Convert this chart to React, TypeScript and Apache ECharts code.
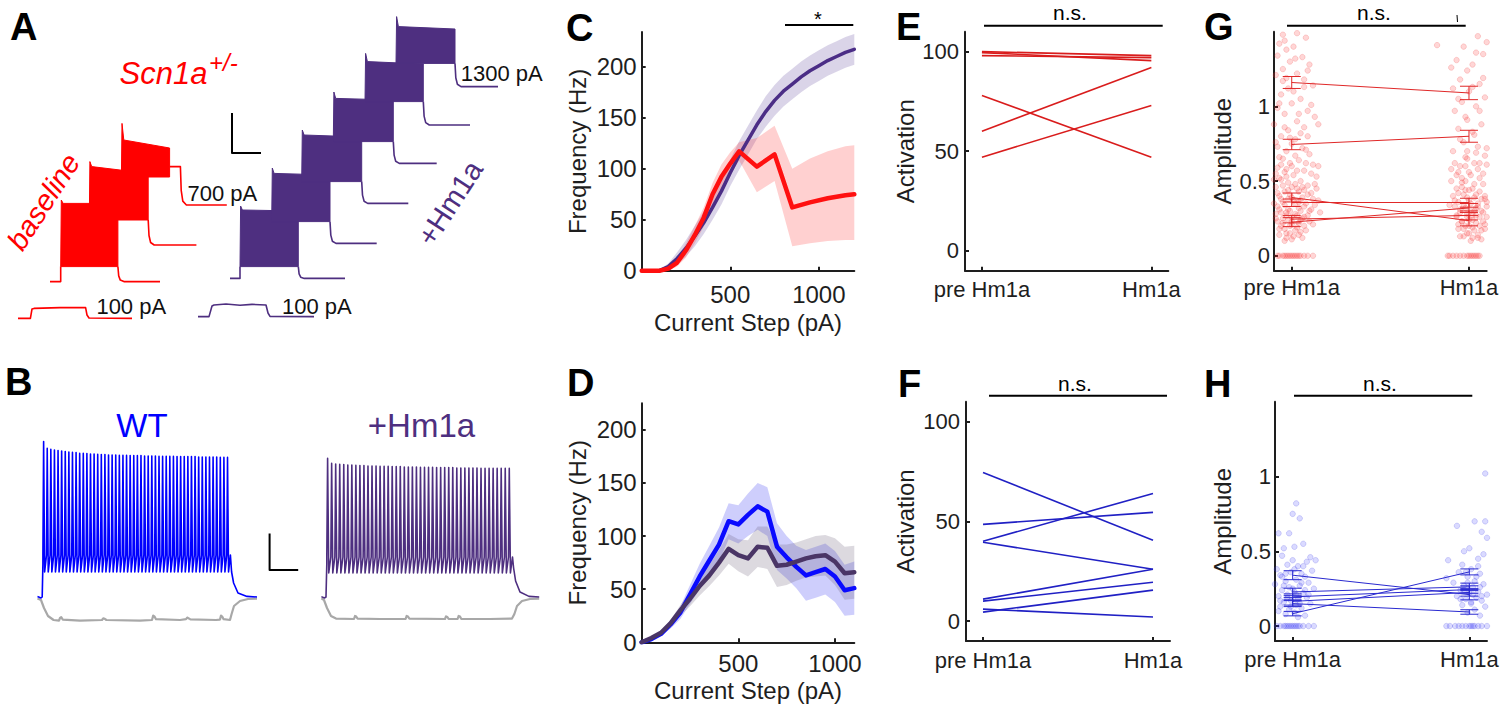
import React, { useEffect, useRef } from "react";
import * as echarts from "echarts";

const FONT = '"Liberation Sans", Arial, Helvetica, sans-serif';
const INK = "#1e1e1e";
const RED = "#ff0000";
const PURPLE = "#4e2f80";
const BLUE = "#0000ff";

// ---------------- Panel A : current-step traces (ms, mV incl. display offsets)
const redSmall = [[90, -159.2], [152, -159.2], [160, -154.5], [170, -154.2], [300, -153.8], [428, -153.8], [435, -157.5], [445, -159], [660, -159.2]];
const purpleSmall = [[990, -158.3], [1045, -158.3], [1060, -153], [1070, -152.5], [1130, -152], [1200, -152.6], [1260, -152.2], [1330, -152.5], [1340, -156.5], [1350, -158.2], [1570, -158.3]];

const redPreStart = 250;
const redStepOn = [303.5, 446.5, 607];
const redStepOff = [589.5, 741, 848];
const redStepPeak = [-100, -80.8, -61.7];
const redStepTopStart = [-101.7, -83.3, -70];
const redStepTopEnd = [-101.7, -86.7, -74];
const redStepBottom = [-133.3, -110, -88.5];
const redStepHold = [-133.3, -110, -83.3];
const redStepHoldEnd = [589.5, 741, 902];
const redStepBase = [-140.8, -122.5, -102.5];
const redStepTailEnd = [800, 982, 1134];

const purplePreStart = 1150;
const purpleStepOn = [1200, 1358.5, 1508.5, 1666.5, 1825, 1980];
const purpleStepOff = [1491.5, 1650, 1808.5, 1966.5, 2116.5, 2275];
const purpleStepPeak = [-103, -84, -65, -46, -26.7, -8.3];
const purpleStepTopStart = [-105, -86.7, -67.5, -49.2, -30.8, -13.3];
const purpleStepTopEnd = [-105.5, -87.5, -68.5, -50, -32, -14.5];
const purpleStepBottom = [-133.3, -110.8, -90.8, -70.8, -50.8, -31.7];
const purpleStepBase = [-139.2, -121.7, -101.7, -81.7, -62.5, -43.3];
const purpleStepTailEnd = [1725, 1883.5, 2041.5, 2183.5, 2350, 2490];

const decayT = [0, 4, 12, 30];
const decayF = [0, 0.62, 0.9, 1];

const scaleBarA = [[1160, -56.5], [1160, -76.5], [1305, -76.5]];

// ---------------- Panel B : firing traces
const wtPre = [[187.5, -128.3], [205, -129], [211, -128.5], [214.5, -112]];
const wtOnset = 214.5;
const wtOffset = 1152;
const wtTrough = -116;
const wtRamp = -107.5;
const wtPeaks = [-50.8, -54.2, -54.7, -55.0, -55.3, -55.5, -55.8, -56.0, -56.2, -56.3, -56.7, -56.7, -56.8, -57.0, -57.0, -57.2, -57.3, -57.3, -57.5, -57.5, -57.5, -57.7, -57.7, -57.7, -57.8, -57.8, -57.8, -57.8, -58.0, -58.0, -58.0, -58.0, -58.2, -58.2, -58.2, -58.2, -58.2, -58.3, -58.3, -58.3, -58.3, -58.3, -58.3, -58.5, -58.5, -58.5, -58.5, -58.5, -58.5, -58.7, -58.7, -58.7];
const wtPost = [[1158, -116], [1168, -121.5], [1190, -126.5], [1235, -128.2], [1285, -128.5]];

const hmPre = [[1607, -128.3], [1622, -129], [1630, -128.5], [1634, -112]];
const hmOnset = 1634;
const hmOffset = 2562.5;
const hmTrough = -116.5;
const hmRamp = -108.5;
const hmPeaks = [-59.2, -61.7, -62.0, -62.2, -62.3, -62.5, -62.5, -62.7, -62.8, -62.8, -63.0, -63.0, -63.0, -63.2, -63.2, -63.2, -63.3, -63.3, -63.3, -63.5, -63.5, -63.5, -63.5, -63.7, -63.7, -63.7, -63.7, -63.8, -63.8, -63.8, -63.8, -63.8, -64.0, -64.0, -64.0, -64.0, -64.0, -64.0, -64.2, -64.2, -64.2, -64.2, -64.2, -64.2, -64.2, -64.2];
const hmPost = [[2568, -114], [2578, -120.5], [2600, -126], [2645, -128.2], [2696, -128.5]];

const greyWT = [[187.5, -129.2], [205, -130], [220, -134], [240, -138], [268, -140], [295, -140.3], [300, -139], [306, -138.6], [314, -139.8], [400, -140.3], [510, -140], [516, -139.2], [524, -139.4], [532, -140], [700, -140.3], [760, -140], [766, -137.8], [772, -138.2], [780, -139.6], [900, -140], [930, -139.6], [936, -138.8], [944, -139.2], [952, -139.7], [1080, -140], [1100, -139.8], [1105, -137.8], [1111, -138.3], [1118, -139.6], [1150, -140], [1158, -137], [1170, -133], [1200, -130.5], [1240, -129.5], [1285, -129.3]];
const greyHm = [[1607, -129.2], [1620, -130], [1635, -134], [1655, -138], [1680, -139.3], [1770, -139.5], [1775, -138], [1781, -138.3], [1788, -139.3], [1900, -139.5], [2028, -139.5], [2033, -138], [2040, -138.3], [2047, -139.3], [2225, -139.5], [2230, -138.2], [2237, -138.5], [2243, -139.4], [2288, -139.5], [2293, -138], [2300, -138.3], [2306, -139.4], [2450, -139.5], [2560, -139.3], [2572, -137], [2585, -133], [2610, -130.5], [2650, -129.5], [2696, -129.3]];
const scaleBarB = [[1348, -96.7], [1348, -115], [1491, -115]];

// ---------------- Panel C : Scn1a+/- baseline vs +Hm1a
const cHmX = [0, 50, 100, 150, 200, 250, 300, 350, 400, 450, 500, 550, 600, 650, 700, 750, 800, 850, 900, 950, 1000, 1050, 1100, 1150, 1200];
const cHmMean = [0, 0, 0, 4, 12, 22, 34, 47, 62, 78, 96, 113, 128, 143, 156, 167, 176, 183, 190, 196, 201, 206, 210, 214, 217];
const cHmSem = [0, 0, 1, 3, 6, 8, 10, 11, 12, 13, 13, 14, 14, 14, 15, 15, 15, 15, 15, 15, 15, 15, 15, 15, 15];
const cScnX = [0, 50, 100, 150, 200, 250, 300, 350, 400, 450, 500, 550, 650, 750, 850, 950, 1050, 1150, 1200];
const cScnMean = [0, 0, 0, 2, 8, 20, 35, 52, 75, 92, 105, 117, 102, 114, 62, 67, 71, 74, 75];
const cScnLow = [0, 0, 0, 0, 4, 13, 27, 43, 64, 80, 94, 108, 77, 88, 24, 27, 29, 30, 30];
const cScnHigh = [0, 0, 0, 4, 12, 27, 44, 62, 86, 104, 116, 126, 130, 142, 100, 110, 117, 122, 123];

// ---------------- Panel D : WT vs +Hm1a
const dX = [0, 50, 100, 150, 200, 250, 300, 350, 400, 450, 500, 550, 600, 650, 700, 750, 800, 850, 900, 950, 1000, 1050, 1100];
const dWTMean = [0, 3, 8, 17, 28, 45, 62, 77, 92, 114, 111, 120, 128, 123, 90, 80, 71, 63, 66, 69, 62, 49, 51];
const dWTSem = [0, 1, 2, 4, 6, 9, 12, 14, 16, 17, 18, 20, 22, 23, 22, 20, 20, 24, 24, 24, 24, 24, 25];
const dHmMean = [0, 4, 9, 18, 30, 41, 53, 63, 75, 88, 82, 79, 90, 89, 72, 73, 76, 79, 81, 82, 76, 65, 66];
const dHmSem = [0, 1, 2, 3, 5, 7, 9, 10, 12, 14, 15, 17, 19, 20, 20, 19, 18, 18, 19, 19, 22, 25, 25];

// ---------------- Panels E, F : activation
const ePre = [100, 99.5, 98, 78, 60, 47];
const ePost = [98, 95.5, 97, 47, 92, 73];
const fPre = [74.5, 48.5, 40, 39.5, 11, 10, 6, 4.5];
const fPost = [40.5, 54.5, 64, 26, 26, 19.5, 2, 15.5];
const condTicks = [1, 2];
const condLabels = ["pre Hm1a", "Hm1a"];

// ---------------- Panels G, H : amplitudes
const gPreMean = [1.16, 0.745, 0.39, 0.355, 0.225, 0.245];
const gPostMean = [1.09, 0.8, 0.235, 0.355, 0.32, 0.27];
const gPreSem = [0.04, 0.035, 0.03, 0.025, 0.03, 0.025];
const gPostSem = [0.045, 0.04, 0.035, 0.03, 0.03, 0.03];
const hPreMean = [0.34, 0.083, 0.228, 0.195, 0.165, 0.15];
const hPostMean = [0.21, 0.362, 0.262, 0.244, 0.225, 0.094];
const hPreSem = [0.03, 0.015, 0.025, 0.02, 0.025, 0.02];
const hPostSem = [0.035, 0.02, 0.025, 0.025, 0.025, 0.015];

const gPrePts = [[0.95, 1.48], [1.03, 1.49], [0.93, 1.42], [1.08, 1.46], [0.97, 1.38], [1.01, 1.4], [0.92, 1.34], [1.06, 1.33], [0.99, 1.3], [1.1, 1.28], [0.95, 1.25], [1.03, 1.22], [0.91, 1.21], [1.07, 1.18], [0.98, 1.12], [1.12, 1.14], [0.94, 1.08], [1.05, 1.05], [1.0, 1.02], [0.92, 0.99], [1.09, 0.97], [0.96, 0.95], [1.13, 0.93], [1.03, 0.9], [0.9, 0.88], [1.07, 0.86], [0.98, 0.84], [1.15, 0.88], [0.94, 0.8], [1.02, 0.78], [0.91, 0.76], [1.06, 0.72], [0.97, 0.7], [1.1, 0.68], [0.93, 0.66], [1.04, 0.64], [0.99, 0.62], [1.12, 0.61], [0.92, 0.59], [1.07, 0.57], [0.96, 0.56], [1.01, 0.54], [1.14, 0.53], [0.94, 0.51], [1.05, 0.5], [0.98, 0.49], [1.09, 0.47], [0.91, 0.46], [1.03, 0.45], [0.96, 0.43], [1.11, 0.42], [0.99, 0.41], [0.93, 0.4], [1.06, 0.39], [1.01, 0.37], [0.95, 0.36], [1.08, 0.35], [1.13, 0.34], [0.92, 0.33], [1.04, 0.32], [0.98, 0.31], [1.1, 0.3], [0.94, 0.29], [1.02, 0.28], [0.97, 0.27], [1.07, 0.26], [0.91, 0.25], [1.05, 0.24], [1.0, 0.23], [0.95, 0.22], [1.12, 0.21], [0.99, 0.2], [1.03, 0.19], [0.93, 0.18], [1.08, 0.17], [0.97, 0.15], [1.01, 0.13], [1.06, 0.12], [0.96, 0.1], [1.02, 0.48], [0.97, 0.58], [1.04, 0.36], [0.98, 0.38], [1.07, 0.44], [0.93, 0.52], [1.15, 0.6], [1.0, 0.75], [1.05, 0.82], [0.95, 1.17], [1.11, 1.01],
  [0.94, 0.61], [1.0, 0.6], [1.08, 0.62], [0.91, 0.55], [0.97, 0.53], [1.03, 0.57], [1.11, 0.55], [0.95, 0.47], [1.0, 0.46], [1.06, 0.46], [1.13, 0.48], [0.92, 0.42], [0.98, 0.44], [1.04, 0.43], [1.09, 0.41], [0.94, 0.38], [1.0, 0.39], [1.05, 0.37], [1.12, 0.38], [0.9, 0.35], [0.96, 0.34], [1.02, 0.35], [1.07, 0.33], [0.93, 0.31], [0.99, 0.3], [1.05, 0.3], [1.11, 0.31], [0.91, 0.28], [0.97, 0.29], [1.03, 0.27], [1.09, 0.27], [0.95, 0.25], [1.0, 0.26], [1.06, 0.25], [0.92, 0.23], [0.98, 0.24], [1.04, 0.22], [1.1, 0.23], [0.94, 0.2], [1.0, 0.21], [1.07, 0.2], [0.96, 0.18], [1.02, 0.17], [1.05, 0.16], [0.99, 0.15], [0.93, 0.14], [1.04, 0.14], [0.97, 0.12], [1.0, 0.11], [0.95, 0.65], [1.02, 0.67], [1.08, 0.71], [0.92, 0.73], [0.99, 0.79], [1.09, 0.8], [0.96, 0.86], [1.04, 0.95], [0.93, 1.02], [1.01, 1.1], [1.07, 1.13], [0.97, 1.19], [1.09, 1.24], [1.02, 1.32], [0.96, 1.44], [0.9, 0.51], [1.14, 0.45], [1.15, 0.37], [1.16, 0.29], [0.89, 0.41], [0.89, 0.21]];
const gPreZeroX = [0.92, 0.93, 0.95, 0.96, 0.97, 0.98, 0.99, 1.0, 1.01, 1.02, 1.03, 1.04, 1.05, 1.07, 1.09, 1.12];
const gPostPts = [[1.9, 1.26], [2.05, 1.47], [2.1, 1.43], [1.97, 1.4], [2.08, 1.35], [1.93, 1.31], [2.02, 1.28], [2.12, 1.22], [1.95, 1.18], [2.06, 1.15], [1.91, 1.12], [2.0, 1.1], [2.09, 1.06], [1.96, 1.03], [2.04, 1.0], [1.92, 0.97], [2.11, 0.94], [1.99, 0.91], [2.07, 0.88], [1.94, 0.85], [2.02, 0.83], [2.13, 0.79], [1.97, 0.76], [2.05, 0.73], [1.91, 0.7], [2.09, 0.67], [1.99, 0.65], [2.03, 0.62], [1.95, 0.6], [2.11, 0.58], [2.0, 0.56], [1.93, 0.54], [2.06, 0.52], [1.98, 0.5], [2.08, 0.48], [1.96, 0.46], [2.02, 0.45], [2.12, 0.43], [1.94, 0.42], [2.04, 0.41], [1.99, 0.39], [2.07, 0.38], [1.92, 0.37], [2.1, 0.36], [2.01, 0.35], [1.97, 0.34], [2.05, 0.33], [2.13, 0.32], [1.95, 0.31], [2.03, 0.3], [2.08, 0.29], [1.99, 0.28], [1.93, 0.27], [2.06, 0.26], [2.11, 0.25], [2.0, 0.24], [1.96, 0.23], [2.04, 0.22], [2.09, 0.21], [1.98, 0.2], [2.02, 0.19], [1.94, 0.18], [2.07, 0.17], [2.12, 0.16], [2.0, 0.15], [1.97, 0.13], [2.05, 0.12], [2.01, 0.1], [1.82, 1.41], [2.14, 1.39], [1.99, 0.7], [2.06, 0.62], [1.96, 0.52], [2.09, 0.4], [2.02, 0.27], [1.98, 0.44],
  [1.92, 0.62], [1.98, 0.6], [2.05, 0.58], [2.1, 0.61], [1.94, 0.56], [2.01, 0.54], [2.08, 0.55], [1.9, 0.5], [1.96, 0.49], [2.03, 0.48], [2.11, 0.5], [1.93, 0.45], [2.0, 0.44], [2.06, 0.43], [2.13, 0.44], [1.91, 0.4], [1.97, 0.41], [2.03, 0.39], [2.09, 0.38], [1.94, 0.36], [2.0, 0.37], [2.05, 0.35], [2.12, 0.35], [1.92, 0.33], [1.98, 0.32], [2.04, 0.32], [2.1, 0.33], [1.95, 0.29], [2.01, 0.3], [2.07, 0.3], [2.13, 0.28], [1.93, 0.26], [1.99, 0.26], [2.04, 0.27], [2.1, 0.26], [1.96, 0.23], [2.02, 0.24], [2.08, 0.23], [1.94, 0.21], [2.0, 0.2], [2.06, 0.2], [2.12, 0.21], [1.97, 0.18], [2.03, 0.17], [2.09, 0.18], [1.99, 0.15], [2.05, 0.14], [1.95, 0.13], [2.02, 0.12], [2.07, 0.11], [1.98, 0.66], [2.04, 0.69], [2.1, 0.72], [1.95, 0.78], [2.03, 0.81], [2.11, 0.86], [1.98, 0.93], [2.06, 0.97], [1.94, 1.05], [2.02, 1.13], [2.08, 1.19], [1.99, 1.24], [2.12, 1.3], [2.04, 1.36], [1.9, 0.58], [2.14, 0.47], [1.89, 0.34], [2.15, 0.23]];
const gPostZeroX = [1.88, 1.89, 1.91, 1.93, 1.95, 1.97, 1.99, 2.0, 2.01, 2.02, 2.03, 2.04, 2.05, 2.06];
const hPrePts = [[1.02, 0.82], [1.0, 0.75], [1.04, 0.72], [0.92, 0.62], [0.98, 0.62], [0.95, 0.52], [1.01, 0.53], [1.06, 0.55], [1.1, 0.46], [1.13, 0.44], [0.94, 0.47], [1.0, 0.44], [1.08, 0.43], [0.97, 0.41], [1.03, 0.4], [0.91, 0.38], [1.11, 0.37], [0.99, 0.36], [1.05, 0.35], [0.93, 0.34], [1.07, 0.33], [1.02, 0.31], [0.96, 0.3], [1.09, 0.29], [0.9, 0.28], [1.04, 0.27], [0.98, 0.26], [1.12, 0.25], [0.94, 0.24], [1.01, 0.23], [1.06, 0.22], [0.97, 0.21], [0.92, 0.2], [1.08, 0.19], [1.03, 0.18], [0.99, 0.17], [0.95, 0.16], [1.1, 0.15], [1.02, 0.14], [0.93, 0.13], [1.05, 0.12], [0.98, 0.11], [1.01, 0.09], [0.96, 0.08], [1.07, 0.07], [1.03, 0.06], [0.89, 0.26], [0.94, 0.33],
  [0.95, 0.27], [1.0, 0.25], [1.05, 0.29], [0.97, 0.19], [1.02, 0.21], [1.07, 0.24], [0.93, 0.17], [0.99, 0.13], [1.04, 0.15], [0.96, 0.35], [1.01, 0.38], [1.06, 0.4], [0.92, 0.1], [1.09, 0.21]];
const hPreZeroX = [0.91, 0.93, 0.95, 0.96, 0.97, 0.98, 0.99, 1.0, 1.01, 1.02, 1.03, 1.04, 1.06, 1.09, 1.12];
const hPostPts = [[2.09, 1.02], [1.93, 0.67], [2.03, 0.7], [2.09, 0.7], [2.07, 0.63], [2.1, 0.59], [1.97, 0.5], [2.0, 0.52], [2.08, 0.48], [1.88, 0.44], [2.05, 0.45], [1.96, 0.41], [2.11, 0.4], [2.01, 0.38], [1.94, 0.36], [2.06, 0.35], [1.99, 0.33], [2.13, 0.31], [2.03, 0.3], [1.91, 0.29], [2.08, 0.28], [1.97, 0.27], [2.02, 0.26], [2.12, 0.25], [1.95, 0.24], [2.05, 0.23], [2.0, 0.22], [2.1, 0.21], [1.93, 0.2], [2.04, 0.19], [1.98, 0.18], [2.07, 0.17], [2.01, 0.15], [1.96, 0.14], [2.09, 0.13], [2.03, 0.11], [1.99, 0.09], [2.06, 0.07], [2.15, 0.29], [1.87, 0.32],
  [1.97, 0.24], [2.02, 0.21], [2.06, 0.26], [1.99, 0.29], [2.04, 0.33], [1.95, 0.18], [2.01, 0.16], [2.07, 0.2], [1.98, 0.36], [2.05, 0.4], [2.11, 0.16]];
const hPostZeroX = [1.87, 1.89, 1.92, 1.94, 1.96, 1.98, 2.0, 2.01, 2.02, 2.03, 2.05, 2.07, 2.1, 2.13];

// ---------------- helpers
function stepTail(off: number, holdEnd: number, hold: number, base: number, tailEnd: number) {
  const pts: number[][] = [[off, hold]];
  if (holdEnd > off) pts.push([holdEnd, hold]);
  for (let k = 1; k < decayT.length; k++) pts.push([holdEnd + decayT[k], hold + (base - hold) * decayF[k]]);
  pts.push([tailEnd, base]);
  return pts;
}

function spikeTrain(pre: number[][], onset: number, offset: number, trough: number, ramp: number, peaks: number[], post: number[][]) {
  const isi = (offset - onset) / peaks.length;
  const pts = pre.slice();
  peaks.forEach((pk, i) => {
    const t = onset + i * isi;
    pts.push([t, ramp], [t + isi * 0.2, pk], [t + isi * 0.48, trough]);
  });
  pts.push([offset, ramp]);
  return pts.concat(post);
}

function blockSeries(on: number[], off: number[], peak: number[], topS: number[], topE: number[], bottom: number[], color: string) {
  return {
    type: "custom", xAxisIndex: 0, yAxisIndex: 0, clip: false, silent: true, z: 3,
    data: on.map((t, i) => [t, bottom[i]]),
    renderItem: (params: any, api: any) => {
      const i = params.dataIndex;
      const pts = [[on[i], bottom[i]], [on[i] + 3, peak[i]], [on[i] + 12, topS[i]], [off[i], topE[i]], [off[i], bottom[i]]].map((p) => api.coord(p));
      return { type: "polygon", shape: { points: pts }, style: { fill: color, stroke: color, lineWidth: 1 } };
    },
  };
}

function polySeries(axis: number, lines: number[][][], color: string, width: number, z = 4) {
  return {
    type: "lines", coordinateSystem: "cartesian2d", xAxisIndex: axis, yAxisIndex: axis, polyline: true, silent: true, z,
    lineStyle: { color, width, opacity: 1, join: "round" },
    data: lines.map((c) => ({ coords: c })),
  };
}

function bandSeries(axis: number, xs: number[], lo: number[], hi: number[], color: string) {
  return {
    type: "custom", xAxisIndex: axis, yAxisIndex: axis, silent: true, z: 1,
    data: [[xs[0], lo[0]]],
    renderItem: (params: any, api: any) => {
      const up = xs.map((x, i) => api.coord([x, hi[i]]));
      const dn = xs.map((x, i) => api.coord([x, lo[i]])).reverse();
      return { type: "polygon", shape: { points: up.concat(dn) }, style: { fill: color, stroke: "none" } };
    },
  };
}

function meanLine(axis: number, xs: number[], ys: number[], color: string, width: number, z = 3) {
  return {
    type: "line", xAxisIndex: axis, yAxisIndex: axis, showSymbol: false, symbol: "none", silent: true, z,
    lineStyle: { color, width, cap: "round", join: "round" },
    data: xs.map((x, i) => [x, ys[i]]),
  };
}

function pairLines(axis: number, pre: number[], post: number[], color: string, width: number) {
  return {
    type: "lines", coordinateSystem: "cartesian2d", xAxisIndex: axis, yAxisIndex: axis, silent: true, z: 4,
    lineStyle: { color, width, opacity: 1 },
    data: pre.map((v, i) => ({ coords: [[condTicks[0], v], [condTicks[1], post[i]]] })),
  };
}

function errSeries(axis: number, x: number, means: number[], sems: number[], color: string) {
  return {
    type: "custom", xAxisIndex: axis, yAxisIndex: axis, silent: true, z: 5,
    data: means.map((m, i) => [x, m, sems[i]]),
    renderItem: (params: any, api: any) => {
      const xv = api.value(0), m = api.value(1), s = api.value(2);
      const top = api.coord([xv, m + s]);
      const bot = api.coord([xv, m - s]);
      const h = 9;
      const st = { stroke: color, lineWidth: 1 };
      return {
        type: "group",
        children: [
          { type: "line", shape: { x1: top[0], y1: top[1], x2: bot[0], y2: bot[1] }, style: st },
          { type: "line", shape: { x1: top[0] - h, y1: top[1], x2: top[0] + h, y2: top[1] }, style: st },
          { type: "line", shape: { x1: bot[0] - h, y1: bot[1], x2: bot[0] + h, y2: bot[1] }, style: st },
        ],
      };
    },
  };
}

function scatterSeries(axis: number, pts: number[][], zeroX: number[], fill: string, border: string) {
  return {
    type: "scatter", xAxisIndex: axis, yAxisIndex: axis, silent: true, z: 2, symbolSize: 5.5,
    itemStyle: { color: fill, borderColor: border, borderWidth: 0.7 },
    data: pts.concat(zeroX.map((x) => [x, 0])),
  };
}

const hiddenAxis = (gridIndex: number, min: number, max: number) => ({ gridIndex, type: "value", min, max, show: false, splitLine: { show: false } });

function plotX(gridIndex: number, min: number, max: number, ticks: number[], fontSize: number, margin: number, name: string, nameGap: number, labels?: string[]) {
  return {
    gridIndex, type: "value", min, max,
    axisLine: { show: true, onZero: false, lineStyle: { color: INK, width: 2 } },
    axisTick: { show: true, inside: true, length: 4, customValues: ticks, lineStyle: { color: INK, width: 2 } },
    axisLabel: {
      customValues: ticks, fontSize, margin, color: INK, fontFamily: FONT,
      formatter: (v: number) => (labels ? labels[ticks.indexOf(v)] ?? "" : String(v)),
    },
    splitLine: { show: false },
    name, nameLocation: "middle", nameGap, nameTextStyle: { fontSize: 24, color: INK, fontFamily: FONT },
  };
}

function plotY(gridIndex: number, min: number, max: number, ticks: number[], fontSize: number, margin: number, name: string, nameGap: number) {
  return {
    gridIndex, type: "value", min, max,
    axisLine: { show: true, onZero: false, lineStyle: { color: INK, width: 2 } },
    axisTick: { show: true, inside: true, length: 4, customValues: ticks, lineStyle: { color: INK, width: 2 } },
    axisLabel: { customValues: ticks, fontSize, margin, color: INK, fontFamily: FONT, formatter: (v: number) => String(v) },
    splitLine: { show: false },
    name, nameLocation: "middle", nameGap, nameRotate: 90, nameTextStyle: { fontSize: 24, color: INK, fontFamily: FONT },
  };
}

function txt(text: string, x: number, y: number, font: string, fill: string, align = "left", rotation = 0) {
  return {
    type: "text", x, y, rotation, silent: true, z: 10,
    style: { text, font, fill, align, verticalAlign: "middle", textAlign: align, textVerticalAlign: "middle" },
  };
}
function hline(x1: number, x2: number, y: number, w = 2) {
  return { type: "line", silent: true, z: 10, shape: { x1, y1: y, x2, y2: y }, style: { stroke: "#000", lineWidth: w } };
}

function buildOption() {
  const redTails = redStepOn.map((_, i) => stepTail(redStepOff[i], redStepHoldEnd[i], redStepHold[i], redStepBase[i], redStepTailEnd[i]));
  const redPre = [[redPreStart, redStepBase[0]], [redStepOn[0], redStepBase[0]], [redStepOn[0], redStepBottom[0]]];
  const purpleTails = purpleStepOn.map((_, i) => stepTail(purpleStepOff[i], purpleStepOff[i], purpleStepBottom[i], purpleStepBase[i], purpleStepTailEnd[i]));
  const purplePre = [[purplePreStart, purpleStepBase[0]], [purpleStepOn[0], purpleStepBase[0]], [purpleStepOn[0], purpleStepBottom[0]]];

  const wtTrace = spikeTrain(wtPre, wtOnset, wtOffset, wtTrough, wtRamp, wtPeaks, wtPost);
  const hmTrace = spikeTrain(hmPre, hmOnset, hmOffset, hmTrough, hmRamp, hmPeaks, hmPost);

  const dWTLo = dWTMean.map((m, i) => m - dWTSem[i]);
  const dWTHi = dWTMean.map((m, i) => m + dWTSem[i]);
  const dHmLo = dHmMean.map((m, i) => m - dHmSem[i]);
  const dHmHi = dHmMean.map((m, i) => m + dHmSem[i]);
  const cHmLo = cHmMean.map((m, i) => Math.max(0, m - cHmSem[i]));
  const cHmHi = cHmMean.map((m, i) => m + cHmSem[i]);

  const bold = `bold 38px ${FONT}`;
  const deg = Math.PI / 180;

  return {
    animation: false,
    backgroundColor: "#ffffff",
    textStyle: { fontFamily: FONT },
    grid: [
      { left: 0, top: 0, width: 560, height: 340, outerBoundsMode: "none" },
      { left: 0, top: 340, width: 560, height: 371, outerBoundsMode: "none" },
      { left: 641.7, top: 32, width: 212.6, height: 238.7, outerBoundsMode: "none" },
      { left: 641.7, top: 403.3, width: 212.6, height: 239, outerBoundsMode: "none" },
      { left: 965, top: 31.7, width: 203.3, height: 239, outerBoundsMode: "none" },
      { left: 966, top: 401.7, width: 204, height: 239.3, outerBoundsMode: "none" },
      { left: 1274, top: 31.7, width: 212.7, height: 239, outerBoundsMode: "none" },
      { left: 1275, top: 401.7, width: 212, height: 239.3, outerBoundsMode: "none" },
    ],
    xAxis: [
      hiddenAxis(0, 0, 2800),
      hiddenAxis(1, 0, 2800),
      plotX(2, 0, 1200, [500, 1000], 24, 12, "Current Step (pA)", 40),
      plotX(3, 0, 1100, [500, 1000], 24, 9, "Current Step (pA)", 36),
      plotX(4, 0.9, 2.1, condTicks, 22, 8, "", 0, condLabels),
      plotX(5, 0.9, 2.1, condTicks, 22, 8, "", 0, condLabels),
      plotX(6, 0.9, 2.1, condTicks, 22, 6, "", 0, condLabels),
      plotX(7, 0.9, 2.1, condTicks, 22, 7, "", 0, condLabels),
    ],
    yAxis: [
      hiddenAxis(0, -170, 0),
      hiddenAxis(1, -185.5, 0),
      plotY(2, 0, 234, [0, 50, 100, 150, 200], 24, 5, "Frequency (Hz)", 52),
      plotY(3, 0, 225, [0, 50, 100, 150, 200], 24, 5, "Frequency (Hz)", 52),
      plotY(4, -10, 110, [0, 50, 100], 22, 6, "Activation", 48),
      plotY(5, -10, 110, [0, 50, 100], 22, 6, "Activation", 49),
      plotY(6, -0.1, 1.5, [0, 0.5, 1], 22, 4, "Amplitude", 40),
      plotY(7, -0.1, 1.5, [0, 0.5, 1], 22, 4, "Amplitude", 41),
    ],
    series: [
      // A
      blockSeries(redStepOn, redStepOff, redStepPeak, redStepTopStart, redStepTopEnd, redStepBottom, RED),
      blockSeries(purpleStepOn, purpleStepOff, purpleStepPeak, purpleStepTopStart, purpleStepTopEnd, purpleStepBottom, PURPLE),
      polySeries(0, [redSmall, redPre, ...redTails], RED, 1.6),
      polySeries(0, [purpleSmall, purplePre, ...purpleTails], PURPLE, 1.6),
      polySeries(0, [scaleBarA], "#000", 2),
      // B
      polySeries(1, [greyWT, greyHm], "#a8a8a8", 2.2, 2),
      polySeries(1, [wtTrace], BLUE, 1.6),
      polySeries(1, [hmTrace], PURPLE, 1.6),
      polySeries(1, [scaleBarB], "#000", 2),
      // C
      bandSeries(2, cHmX, cHmLo, cHmHi, "rgba(85,60,150,0.22)"),
      bandSeries(2, cScnX, cScnLow, cScnHigh, "rgba(255,40,40,0.22)"),
      meanLine(2, cHmX, cHmMean, "#4b2d86", 3.5, 3),
      meanLine(2, cScnX, cScnMean, "#ff1010", 4.5, 4),
      // D
      bandSeries(3, dX, dWTLo, dWTHi, "rgba(30,30,240,0.22)"),
      bandSeries(3, dX, dHmLo, dHmHi, "rgba(95,80,110,0.22)"),
      meanLine(3, dX, dWTMean, "#0a0aff", 4.5, 3),
      meanLine(3, dX, dHmMean, "#4a3566", 4.5, 4),
      // E, F
      pairLines(4, ePre, ePost, "#d91c1c", 1.6),
      pairLines(5, fPre, fPost, "#2020c4", 1.6),
      // G
      scatterSeries(6, gPrePts, gPreZeroX, "rgba(255,60,60,0.26)", "rgba(230,40,40,0.32)"),
      scatterSeries(6, gPostPts, gPostZeroX, "rgba(255,60,60,0.26)", "rgba(230,40,40,0.32)"),
      pairLines(6, gPreMean, gPostMean, "#e02828", 1),
      errSeries(6, condTicks[0], gPreMean, gPreSem, "#e02828"),
      errSeries(6, condTicks[1], gPostMean, gPostSem, "#e02828"),
      // H
      scatterSeries(7, hPrePts, hPreZeroX, "rgba(60,60,255,0.24)", "rgba(40,40,220,0.32)"),
      scatterSeries(7, hPostPts, hPostZeroX, "rgba(60,60,255,0.24)", "rgba(40,40,220,0.32)"),
      pairLines(7, hPreMean, hPostMean, "#2a2ad0", 1),
      errSeries(7, condTicks[0], hPreMean, hPreSem, "#2a2ad0"),
      errSeries(7, condTicks[1], hPostMean, hPostSem, "#2a2ad0"),
    ],
    graphic: [
      txt("A", 10, 27, bold, "#000"),
      txt("B", 5, 382, bold, "#000"),
      txt("C", 566, 28, bold, "#000"),
      txt("D", 567, 383, bold, "#000"),
      txt("E", 896, 27, bold, "#000"),
      txt("F", 898, 384, bold, "#000"),
      txt("G", 1204, 27, bold, "#000"),
      txt("H", 1204, 384, bold, "#000"),
      // A annotations
      txt("Scn1a", 119.6, 73, `italic 31px ${FONT}`, RED),
      txt("+/-", 209, 62, `italic 24px ${FONT}`, RED),
      txt("baseline", 43.6, 201.7, `italic 29px ${FONT}`, RED, "center", 57 * deg),
      txt("+Hm1a", 450, 203, `29px ${FONT}`, PURPLE, "center", 57 * deg),
      txt("700 pA", 187.5, 193, `22px ${FONT}`, "#111"),
      txt("100 pA", 96.4, 306, `22px ${FONT}`, "#111"),
      txt("100 pA", 282, 306, `22px ${FONT}`, "#111"),
      txt("1300 pA", 460.7, 73, `22px ${FONT}`, "#111"),
      // B annotations
      txt("WT", 142, 425, `33px ${FONT}`, BLUE, "center"),
      txt("+Hm1a", 421.5, 425, `33px ${FONT}`, PURPLE, "center"),
      // significance
      hline(785, 853.3, 25),
      txt("*", 818, 19, `20px ${FONT}`, "#000", "center"),
      hline(984, 1162.7, 25.7),
      txt("n.s.", 1070, 12.5, `21px ${FONT}`, "#000", "center"),
      hline(989, 1167, 395.7),
      txt("n.s.", 1075, 383, `21px ${FONT}`, "#000", "center"),
      hline(1287, 1465.7, 25.7),
      txt("n.s.", 1374, 12.5, `21px ${FONT}`, "#000", "center"),
      { type: "line", silent: true, z: 10, shape: { x1: 1457, y1: 15, x2: 1457.5, y2: 22 }, style: { stroke: "#000", lineWidth: 1 } },
      hline(1294, 1472.3, 395.7),
      txt("n.s.", 1380, 383, `21px ${FONT}`, "#000", "center"),
    ],
  };
}

export default function App() {
  const ref = useRef<HTMLDivElement>(null);
  useEffect(() => {
    if (!ref.current) return;
    const chart = echarts.init(ref.current, null, { renderer: "svg" });
    chart.setOption(buildOption() as any);
    return () => chart.dispose();
  }, []);
  return <div ref={ref} style={{ position: "absolute", left: 0, top: 0, width: 1500, height: 711, background: "#fff" }} />;
}
